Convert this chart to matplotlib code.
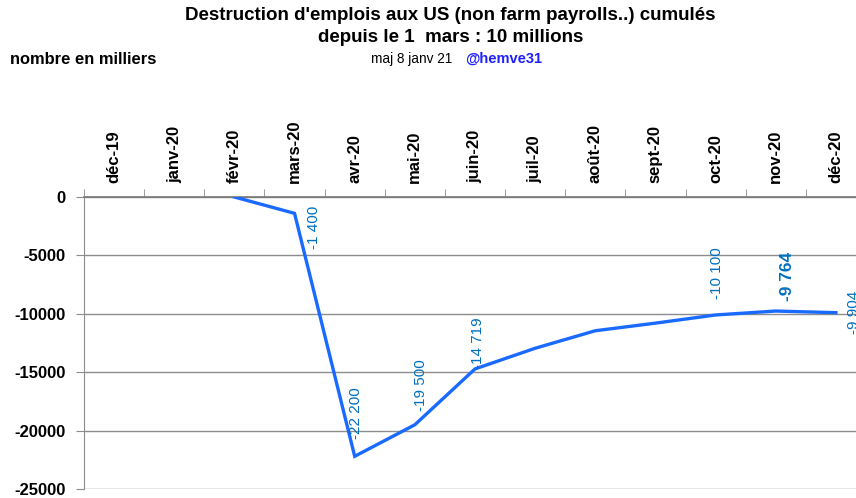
import matplotlib

matplotlib.use("Agg")
import matplotlib.pyplot as plt
import numpy as np

plt.rcParams["font.family"] = ["Liberation Sans", "DejaVu Sans"]

# months shown on the axis
months = ["déc-19", "janv-20", "févr-20", "mars-20", "avr-20", "mai-20", "juin-20",
          "juil-20", "août-20", "sept-20", "oct-20", "nov-20", "déc-20"]
# cumulative job losses (thousands) since février, starting at févr-20
series_months = months[2:]
cumul_jobs = [0, -1400, -22200, -19500, -14719, -12950, -11450, -10800, -10100, -9764, -9904]
# which points carry a value label
labels_text = {"mars-20": "-1 400", "avr-20": "-22 200", "mai-20": "-19 500",
               "juin-20": "-14 719", "oct-20": "-10 100", "nov-20": "-9 764",
               "déc-20": "-9 904"}

label_color = "#0070C0"
line_color = "#1a6aff"

fig = plt.figure(figsize=(8.56, 4.98), dpi=100)
ax = fig.add_axes([84 / 856, 1 - 489 / 498, (866 - 84) / 856, (489 - 197) / 498])

x = np.array([months.index(m) for m in series_months], dtype=float)
ax.plot(x, cumul_jobs, color=line_color, lw=2.4, solid_joinstyle="miter", zorder=3)

ax.set_xlim(-0.5, len(months) - 0.5)
ax.set_ylim(-25000, 0)
ax.set_yticks(np.arange(-25000, 1, 5000))
ax.set_yticklabels([f"{v:d}" for v in np.arange(-25000, 1, 5000)],
                   fontsize=12, fontweight="bold")
ax.yaxis.grid(True, color="#8c8c8c", lw=1)
ax.set_axisbelow(True)

# category labels on top, tick marks on category boundaries
ax.xaxis.tick_top()
ax.set_xticks(np.arange(len(months)))
ax.set_xticklabels(months, rotation=90, fontsize=12, fontweight="bold")
ax.set_xticks(np.arange(len(months)) - 0.5, minor=True)
ax.tick_params(axis="x", which="major", length=0, pad=10)
ax.tick_params(axis="x", which="minor", length=6, color="#8c8c8c", top=True, bottom=False)
ax.tick_params(axis="y", length=6, color="#8c8c8c", pad=7)

for side in ["right", "bottom"]:
    ax.spines[side].set_visible(False)
ax.spines["left"].set_color("#8c8c8c")
ax.spines["top"].set_color("#777777")
ax.spines["top"].set_linewidth(1.2)

# value labels: (offset x px, offset y px, va, size, weight)
label_style = {
    "mars-20": (19, 8, "top", 11, "normal"),
    "avr-20": (1, 17, "bottom", 11, "normal"),
    "mai-20": (6, 14, "bottom", 11, "normal"),
    "juin-20": (3, 0, "bottom", 11, "normal"),
    "oct-20": (1, 16, "bottom", 11, "normal"),
    "nov-20": (12, 10, "bottom", 12.5, "bold"),
    "déc-20": (18, 22, "top", 11, "normal"),
}
for m, txt in labels_text.items():
    i = series_months.index(m)
    dx, dy, va, size, weight = label_style[m]
    ax.annotate(txt, (x[i], cumul_jobs[i]), xytext=(dx, dy), textcoords="offset pixels",
                rotation=90, ha="center", va=va, color=label_color,
                fontsize=size, fontweight=weight, annotation_clip=False)

fig.text(0.526, 0.985, "Destruction d'emplois aux US (non farm payrolls..) cumulés\n"
         "depuis le 1  mars : 10 millions", ha="center", va="top",
         fontsize=13.5, fontweight="bold", linespacing=1.32)
fig.text(10 / 856, 1 - 59 / 498, "nombre en milliers", ha="left", va="center",
         fontsize=11.9, fontweight="bold")
fig.text(452 / 856, 1 - 59 / 498, "maj 8 janv 21", ha="right", va="center", fontsize=9.8)
fig.text(465 / 856, 1 - 59 / 498, "@hemve31", ha="left", va="center", fontsize=10.5,
         fontweight="bold", color="#1f1fff")

fig.savefig("out.png", dpi=100)
